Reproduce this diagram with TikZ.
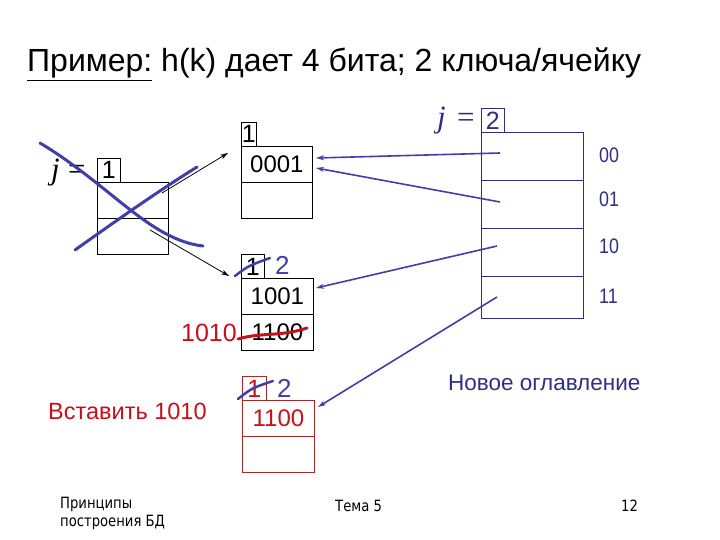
\documentclass[tikz,border=0pt]{standalone}
\usepackage{fontspec}
\setmainfont{Liberation Sans}
\newfontfamily\serifj{Liberation Serif}
\newfontfamily\narrowf{Liberation Sans}[FakeStretch=0.85]
\newfontfamily\footf{DejaVu Sans}[FakeStretch=0.85]
\usetikzlibrary{arrows.meta}
\definecolor{dirblue}{HTML}{2E2E86}
\definecolor{penblue}{HTML}{3F3FAA}
\definecolor{myred}{HTML}{C8101A}
\definecolor{darkred}{HTML}{A82828}
\begin{document}
\begin{tikzpicture}[x=1pt,y=-1pt,
 cell/.style={draw, line width=0.8pt, inner sep=0pt, anchor=north west, font=\fontsize{24}{24}\selectfont},
 lab/.style={cell, font=\fontsize{25}{25}\selectfont},
 pen/.style={penblue, line width=3pt, line cap=round},
 redpen/.style={myred, line width=3pt, line cap=round},
 blk/.style={-{Stealth[length=8pt,width=5pt]}, line width=0.8pt},
 bla/.style={penblue, -{Stealth[length=8pt,width=5pt]}, line width=1.6pt},
 txt/.style={inner sep=0pt, anchor=base west},
 jfont/.style={font=\fontsize{31}{31}\serifj\itshape},
 eqfont/.style={font=\fontsize{31}{31}\serifj},
 bits/.style={txt, dirblue, font=\fontsize{21}{21}\narrowf},
 foot/.style={txt, font=\fontsize{15.5}{18}\footf, align=left},
]
\useasboundingbox (0,0) rectangle (720,540);
\fill[white] (0,0) rectangle (720,540);

% title
\node[txt, font=\fontsize{32}{32}\selectfont] (title) at (27,72) {\underline{Пример:} h(k) дает 4 бита; 2 ключа/ячейку};

% old directory
\node[txt, jfont] (oj) at (51,180) {j};
\node[txt, eqfont] (oeq) at (68,180) {=};
\node[lab, minimum width=23pt, minimum height=24pt] (ol) at (97,158) {1};
\node[cell, minimum width=71pt, minimum height=36pt] (od0) at (97,182) {};
\node[cell, minimum width=71pt, minimum height=36pt] (od1) at (97,218) {};

% bucket A
\node[lab, minimum width=15pt, minimum height=24pt] (al) at (241,122) {1};
\node[cell, minimum width=71pt, minimum height=36pt] (a0) at (241,146) {0001};
\node[cell, minimum width=71pt, minimum height=36pt] (a1) at (241,182) {};

% bucket B
\node[lab, minimum width=23pt, minimum height=24pt] (bl) at (241,254) {1};
\node[txt, penblue, font=\fontsize{26}{26}\selectfont] (b2) at (275,274) {2};
\node[cell, minimum width=72pt, minimum height=36pt] (b0) at (241,278) {1001};
\node[cell, minimum width=72pt, minimum height=36pt] (b1) at (241,314) {1100};
\node[txt, myred, anchor=base east, font=\fontsize{25}{25}\selectfont] (ins) at (237,341) {1010};

% bucket C
\node[lab, darkred, text=myred, minimum width=24pt, minimum height=24pt] (cl) at (242,376) {1};
\node[txt, penblue, font=\fontsize{26}{26}\selectfont] (c2) at (277,397) {2};
\node[cell, darkred, text=myred, minimum width=72pt, minimum height=36pt] (c0) at (242,400) {1100};
\node[cell, darkred, minimum width=72pt, minimum height=36pt] (c1) at (242,436) {};

% new directory
\node[txt, jfont, dirblue] (nj) at (437,128) {j};
\node[txt, eqfont, dirblue] (neq) at (457,128) {=};
\node[lab, dirblue, minimum width=23pt, minimum height=24pt] (nl) at (481,108) {2};
\node[cell, dirblue, line width=0.7pt, minimum width=102pt, minimum height=48pt] (n0) at (481,132) {};
\node[cell, dirblue, line width=0.7pt, minimum width=102pt, minimum height=48pt] (n1) at (481,180) {};
\node[cell, dirblue, line width=0.7pt, minimum width=102pt, minimum height=48pt] (n2) at (481,228) {};
\node[cell, dirblue, line width=0.7pt, minimum width=102pt, minimum height=42pt] (n3) at (481,276) {};
\node[bits] (b00) at (599,163) {00};
\node[bits] (b01) at (599,207) {01};
\node[bits] (b10) at (599,253) {10};
\node[bits] (b11) at (599,303) {11};

% texts
\node[txt, myred, font=\fontsize{23.5}{23.5}\selectfont] (vst) at (48,419) {Вставить 1010};
\node[txt, dirblue, font=\fontsize{22.5}{22.5}\selectfont] (nov) at (448,390) {Новое оглавление};
\node[foot, anchor=north west] (f1) at (60,497) {Принципы\\построения БД};
\node[foot] (f2) at (335,511) {Тема 5};
\node[foot] (f3) at (621,511) {12};

% old pointers
\coordinate (s0) at (162,193);
\coordinate (s1) at (150,230);
\coordinate (ta) at (228,153);
\coordinate (tb) at (229,276);
\draw[blk] (s0) -- (ta);
\draw[blk] (s1) -- (tb);

% new pointers
\coordinate (p0) at (500,153);
\coordinate (p1) at (500,202);
\coordinate (p2) at (497,246);
\coordinate (p3) at (497,297);
\coordinate (q0) at (316,158);
\coordinate (q1) at (316,168);
\coordinate (q2) at (316,288);
\coordinate (q3) at (318,407);
\draw[bla] (p0) -- (q0);
\draw[bla] (p1) -- (q1);
\draw[bla] (p2) -- (q2);
\draw[bla] (p3) -- (q3);

% strike-outs
\draw[pen] (40,143) .. controls (110,185) and (150,240) .. (203,246);
\draw[pen] (75,250) .. controls (120,218) and (160,190) .. (197,167);
\draw[pen, line width=2.5pt] (235,276) .. controls (248,266) .. (270,258);
\draw[pen, line width=2.5pt] (238,399) .. controls (252,388) .. (273,381);
\draw[redpen] (238,339) .. controls (262,332) and (280,337) .. (307,328);
\end{tikzpicture}
\end{document}
